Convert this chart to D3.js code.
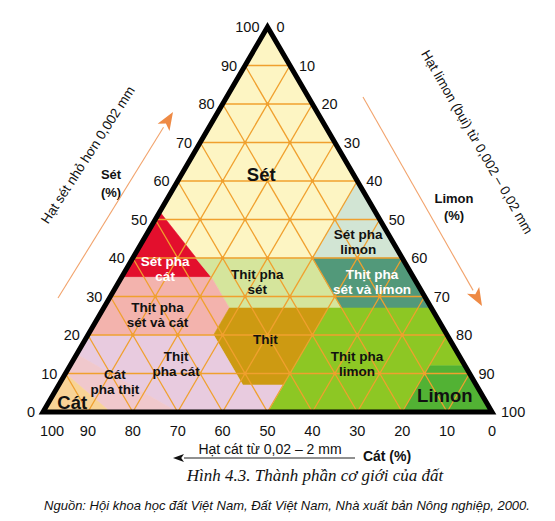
<!DOCTYPE html>
<html><head><meta charset="utf-8">
<script src="https://cdn.jsdelivr.net/npm/d3@7"></script>
<style>
html,body{margin:0;padding:0;background:#fff;}
svg{display:block;font-family:"Liberation Sans",Arial,sans-serif;}
</style></head><body>
<svg id="c" width="555" height="521"></svg>
<script>
// ---- DATA (percent: [sand, silt, clay]) ----
const classNames = ["Sét","Sét pha cát","Sét pha limon","Thịt pha sét","Thịt pha sét và limon",
  "Thịt pha sét và cát","Thịt","Thịt pha limon","Limon","Thịt pha cát","Cát pha thịt","Cát"];
const classPolygons = [
  [[0,0,100],[48,0,52],[46,14,40],[20,40,40],[0,40,60]],
  [[48,0,52],[65,0,35],[45,20,35]],
  [[20,40,40],[0,60,40],[0,40,60]],
  [[46,14,40],[20,40,40],[20,53,27],[45,28,27],[45,20,35]],
  [[20,40,40],[0,60,40],[0,73,27],[20,53,27]],
  [[65,0,35],[45,20,35],[45,28,27],[52,28,20],[80,0,20]],
  [[45,28,27],[23,50,27],[43,50,7],[52,41,7],[52,28,20]],
  [[23,50,27],[0,73,27],[0,88,12],[8,80,12],[20,80,0],[50,50,0],[43,50,7]],
  [[8,80,12],[0,88,12],[0,100,0],[20,80,0]],
  [[80,0,20],[52,28,20],[52,41,7],[43,50,7],[50,50,0],[70,30,0],[85,0,15]],
  [[85,0,15],[70,30,0],[85,15,0],[90,0,10]],
  [[90,0,10],[85,15,0],[100,0,0]]
];
const labelLines = [["Sét"],["Sét pha","cát"],["Sét pha","limon"],["Thịt pha","sét"],["Thịt pha","sét và limon"],
  ["Thịt pha","sét và cát"],["Thịt"],["Thịt pha","limon"],["Limon"],["Thịt","pha cát"],["Cát","pha thịt"],["Cát"]];
const labelPoints = [
  [20.5,17.7,61.8],[54.1,8.5,37.4],[7.6,48.0,44.4],[35.3,30.7,34.0],[9.8,56.4,33.8],
  [61.85,12.85,25.3],[40.95,40.05,19.0],[23.7,63.6,12.7],[8.3,87.3,4.4],[64.0,23.3,12.7],[80.1,12.1,7.8],[92.2,5.2,2.6]
];
const tickValues = [0,10,20,30,40,50,60,70,80,90,100];
const gridValues = [10,20,30,40,50,60,70,80,90];
const texts = {
  clayTitle: ["Sét","(%)"],
  siltTitle: ["Limon","(%)"],
  sandTitle: "Cát (%)",
  clayNote: "Hạt sét nhỏ hơn 0,002 mm",
  siltNote: "Hạt limon (bụi) từ 0,002 – 0,02 mm",
  sandNote: "Hạt cát từ 0,02 – 2 mm",
  caption: "Hình 4.3. Thành phần cơ giới của đất",
  source: "Nguồn: Hội khoa học đất Việt Nam, Đất Việt Nam, Nhà xuất bản Nông nghiệp, 2000."
};
// ---- STYLES ----
const classColors = ["#fdf5c3","#e30f2d","#d2e5d4","#d5e59c","#52997a","#f3b3ad","#cd9a12","#8dc724","#52b234","#e8cbdf","#f0c8cc","#f8d396"];
const whiteLabels = new Set(["Sét pha cát","Thịt pha sét và limon"]);
const bigLabels = new Set(["Sét","Limon","Cát"]);

const svg = d3.select("#c");
const xS = d3.scaleLinear().domain([0,100]).range([43,492]);
const yS = d3.scaleLinear().domain([0,100]).range([412,27]);
const P = ([sand,silt,clay]) => [xS(silt + clay/2), yS(clay)];

// polygons
svg.append("g").selectAll("path").data(classPolygons).join("path")
  .attr("d", d => "M" + d.map(P).map(p=>p.join(",")).join("L") + "Z")
  .attr("fill", (d,i)=>classColors[i]).attr("stroke", (d,i)=>classColors[i]).attr("stroke-width",0.6);

// grid
const grid = svg.append("g").attr("stroke","#f0a02e").attr("stroke-width",1.3);
const gl = [];
gridValues.forEach(v=>{
  gl.push([[100-v,0,v],[0,100-v,v]]);      // const clay
  gl.push([[v,100-v,0],[v,0,100-v]]);      // const sand
  gl.push([[100-v,v,0],[0,v,100-v]]);      // const silt
});
grid.selectAll("line").data(gl).join("line")
  .attr("x1",d=>P(d[0])[0]).attr("y1",d=>P(d[0])[1])
  .attr("x2",d=>P(d[1])[0]).attr("y2",d=>P(d[1])[1]);
const pts = [];
gridValues.forEach(c=>gridValues.forEach(s=>{ if(c+s<100) pts.push([100-c-s,s,c]); }));
svg.append("g").selectAll("circle").data(pts).join("circle")
  .attr("cx",d=>P(d)[0]).attr("cy",d=>P(d)[1]).attr("r",1.8).attr("fill","#f0a02e");

// border
svg.append("path")
  .attr("d","M"+[[100,0,0],[0,100,0],[0,0,100]].map(P).map(p=>p.join(",")).join("L")+"Z")
  .attr("fill","none").attr("stroke","#000").attr("stroke-width",5).attr("stroke-linejoin","miter");

// class labels
const lg = svg.append("g").attr("font-weight","bold").attr("text-anchor","middle");
labelLines.forEach((lines,i)=>{
  const [x,y] = P(labelPoints[i]);
  const big = bigLabels.has(classNames[i]);
  const lh = 15;
  const t = lg.append("text").attr("x",x).attr("y",y)
    .attr("font-size", big?18.5:13.5)
    .attr("fill", whiteLabels.has(classNames[i])?"#fff":"#111")
    .attr("dominant-baseline","central");
  lines.forEach((ln,j)=>{
    t.append("tspan").attr("x",x).attr("y", y + (j-(lines.length-1)/2)*lh).text(ln);
  });
});

// tick labels
const tg = svg.append("g").attr("font-size",14.5).attr("fill","#111").attr("dominant-baseline","central");
tickValues.forEach(v=>{
  const pc = P([100-v,0,v]);
  tg.append("text").attr("x",pc[0]-8).attr("y",pc[1]).attr("text-anchor","end").text(v);
  const ps = P([0,v,100-v]);
  tg.append("text").attr("x",ps[0]+9).attr("y",ps[1]).attr("text-anchor","start").text(v);
  const pb = P([v,100-v,0]);
  tg.append("text").attr("x",pb[0]+(v===100?9:0)).attr("y",pb[1]+19).attr("text-anchor","middle").text(v);
});

// axis titles
const at = svg.append("g").attr("font-weight","bold").attr("font-size",13).attr("text-anchor","middle").attr("fill","#111");
at.append("text").attr("x",111).attr("y",179).text(texts.clayTitle[0]);
at.append("text").attr("x",111).attr("y",197).text(texts.clayTitle[1]);
at.append("text").attr("x",454).attr("y",203).text(texts.siltTitle[0]);
at.append("text").attr("x",454).attr("y",220).text(texts.siltTitle[1]);
svg.append("text").attr("x",387).attr("y",456).attr("font-weight","bold").attr("font-size",14)
  .attr("text-anchor","middle").attr("dominant-baseline","central").attr("fill","#111").text(texts.sandTitle);

// rotated notes
svg.append("text").attr("transform","translate(88,155) rotate(-57)").attr("font-size",13.5)
  .attr("text-anchor","middle").attr("dominant-baseline","central").attr("fill","#111").text(texts.clayNote);
svg.append("text").attr("transform","translate(477,142) rotate(60)").attr("font-size",13.5)
  .attr("text-anchor","middle").attr("dominant-baseline","central").attr("fill","#111").text(texts.siltNote);
svg.append("text").attr("x",270).attr("y",449).attr("font-size",14)
  .attr("text-anchor","middle").attr("dominant-baseline","central").attr("fill","#111").text(texts.sandNote);

// arrows
function arrow(x1,y1,x2,y2,lineCol,headCol,len,half,w){
  const a = Math.atan2(y2-y1,x2-x1);
  const bx = x2 - len*Math.cos(a), by = y2 - len*Math.sin(a);
  svg.append("line").attr("x1",x1).attr("y1",y1).attr("x2",bx).attr("y2",by)
    .attr("stroke",lineCol).attr("stroke-width",w);
  const nx = -Math.sin(a)*half, ny = Math.cos(a)*half;
  svg.append("path").attr("d",`M${x2},${y2}L${bx+nx},${by+ny}L${bx+len*0.25*Math.cos(a)},${by+len*0.25*Math.sin(a)}L${bx-nx},${by-ny}Z`)
    .attr("fill",headCol);
}
arrow(58,298,173,112,"#f2a36c","#ee8a45",18,7,1.1);
arrow(363,97,482,306,"#f2a36c","#ee8a45",18,7,1.1);
arrow(355,458,173,458,"#222","#111",11,4,1.2);

// caption & source
svg.append("text").attr("x",315).attr("y",475).attr("font-family","'Liberation Serif','Times New Roman',serif")
  .attr("font-style","italic").attr("font-size",17).attr("text-anchor","middle").attr("dominant-baseline","central")
  .attr("fill","#111").text(texts.caption);
svg.append("text").attr("x",287).attr("y",505).attr("font-style","italic").attr("font-size",13)
  .attr("text-anchor","middle").attr("dominant-baseline","central").attr("fill","#111").text(texts.source);
</script>
</body></html>
